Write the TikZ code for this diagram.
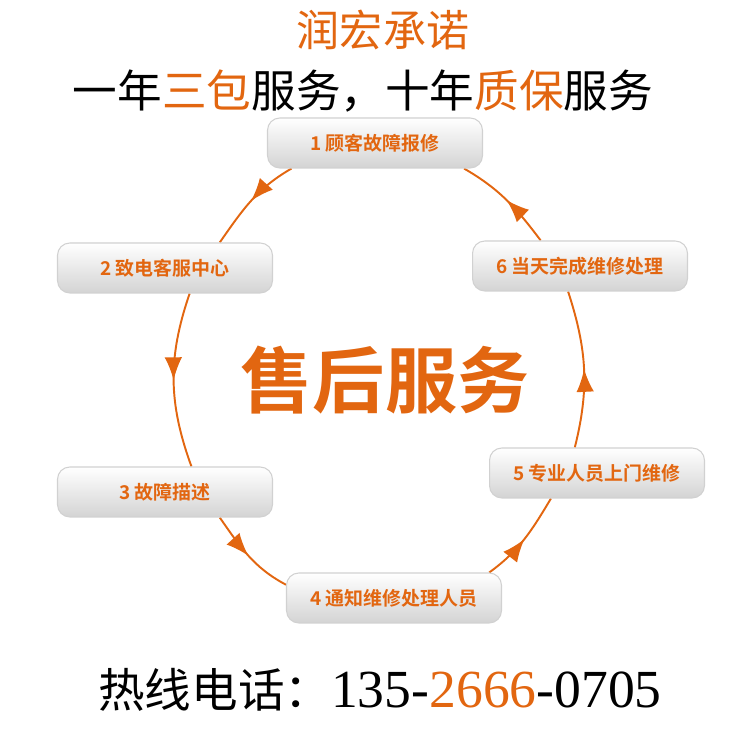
\documentclass[tikz,border=0pt]{standalone}
\usepackage{fontspec}
\setmainfont{Liberation Serif}
\newfontfamily\cjk{Noto Sans CJK SC}[BoldFont={Noto Sans CJK SC Bold}]
\usetikzlibrary{arrows.meta,decorations.markings,backgrounds}
\definecolor{rhorange}{RGB}{226,102,16}

\begin{document}
\begin{tikzpicture}[x=0.02cm, y=0.02cm,
every node/.style={inner sep=0pt},
stepbox/.style={draw=black!18, line width=0.6pt, rounded corners=7pt,
    top color=white, bottom color=black!17,
    minimum width=4.3cm, minimum height=1cm, text=rhorange,
    font=\cjk\bfseries\fontsize{10.8}{12}\selectfont},
flow/.style={draw=rhorange, line width=1.1pt, postaction={decorate},
    decoration={markings, mark=at position 0.5 with {\arrow{Latex[length=13pt,width=10pt]}}}}
]
\useasboundingbox (0,0) rectangle (750,750);

\node (title) [text=rhorange, font=\cjk\fontsize{24.5}{26}\selectfont] at (383,720) {润宏承诺};
\node (slogan) [font=\cjk\fontsize{25.4}{27}\selectfont] at (363,659)
    {一年\textcolor{rhorange}{三包}服务，十年\textcolor{rhorange}{质保}服务};

\node (b1) [stepbox] at (375,607) {1 顾客故障报修};
\node (b2) [stepbox] at (165,482) {2 致电客服中心};
\node (b3) [stepbox] at (165,258) {3 故障描述};
\node (b4) [stepbox] at (394,152) {4 通知维修处理人员};
\node (b5) [stepbox] at (597,277) {5 专业人员上门维修};
\node (b6) [stepbox] at (580,484) {6 当天完成维修处理};

\node (core) [text=rhorange, font=\cjk\bfseries\fontsize{41}{44}\selectfont] at (385,370) {售后服务};

\node (hotline) at (380,60) {{\cjk\fontsize{26.5}{28}\selectfont 热线电话：}%
    {\fontsize{30.5}{32}\selectfont 135-\textcolor{rhorange}{2666}-0705}};

% ring of steps
\begin{scope}[on background layer]
\foreach \s/\t/\o/\i in {b1.197/b2.25/210/55, b2.314/b3.44/251/110,
                         b3.335/b4.173/305/152, b4.15/b5.209/36/239,
                         b5.131/b6.245/76/288, b6.147/b1.344/127/330}
    \draw [flow] (\s) to[out=\o, in=\i] (\t);
\end{scope}
\end{tikzpicture}
\end{document}
